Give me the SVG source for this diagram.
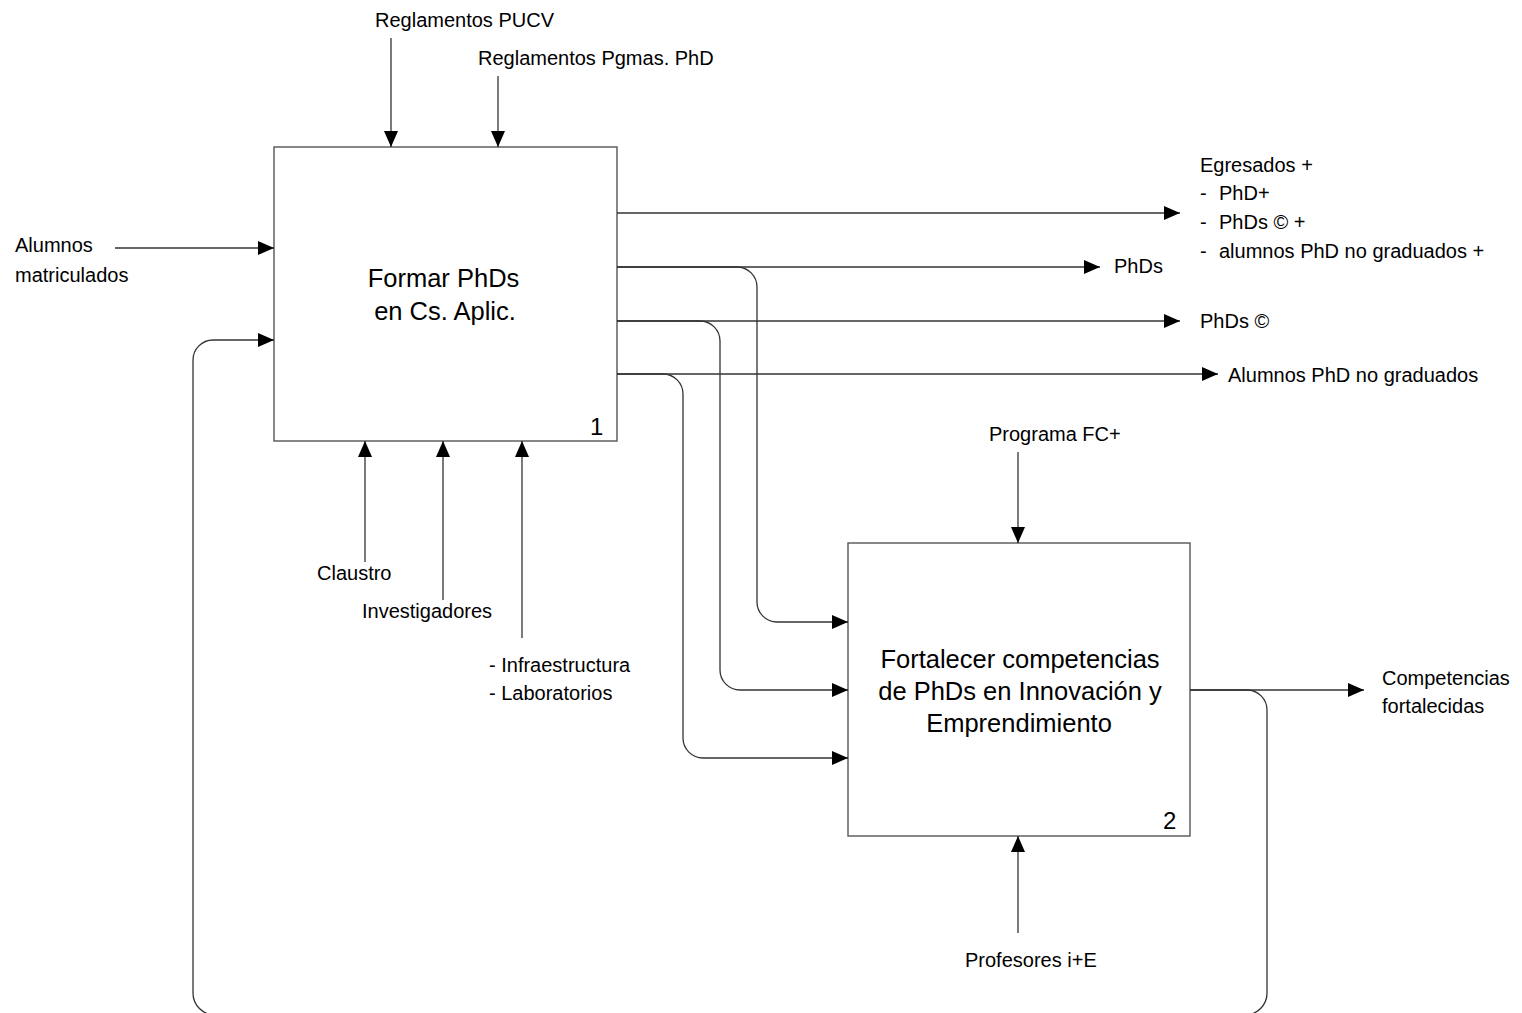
<svg xmlns="http://www.w3.org/2000/svg" width="1522" height="1013" viewBox="0 0 1522 1013">
<style>
.box{fill:#fff;stroke:#555;stroke-width:1.4}
.c{fill:none;stroke:#333;stroke-width:1.3}
.ar{marker-end:url(#ah)}
text{font-family:"Liberation Sans",Arial,sans-serif;fill:#000}
.lb{font-size:20px}
.bt{font-size:25.5px;text-anchor:middle}
.num{font-size:24px}
</style>
<defs>
<marker id="ah" markerUnits="userSpaceOnUse" markerWidth="16" markerHeight="14" refX="16" refY="7" orient="auto">
<path d="M0,0 L16,7 L0,14 z" fill="#000"/>
</marker>
</defs>
<rect width="1522" height="1013" fill="#fff"/>
<g id="box1">
<rect class="box" x="274" y="147" width="343" height="294"/>
<text class="bt" x="443.5" y="287">Formar PhDs</text>
<text class="bt" x="445" y="320">en Cs. Aplic.</text>
<text class="num" x="590" y="435">1</text>
</g>
<g id="box2">
<rect class="box" x="848" y="543" width="342" height="293"/>
<text class="bt" x="1020" y="668">Fortalecer competencias</text>
<text class="bt" x="1020" y="700">de PhDs en Innovación y</text>
<text class="bt" x="1019" y="732">Emprendimiento</text>
<text class="num" x="1163" y="829">2</text>
</g>
<g id="connectors">
<path class="c ar" d="M391,38 V147"/>
<path class="c ar" d="M498,76 V147"/>
<path class="c ar" d="M115,248 H274"/>
<path class="c ar" d="M1190,690 H1247 A20,20 0 0 1 1267,710 V993 A22,22 0 0 1 1245,1015 H215 A22,22 0 0 1 193,993 V360 A20,20 0 0 1 213,340 H274"/>
<path class="c ar" d="M617,213 H1180"/>
<path class="c ar" d="M617,267 H1100"/>
<path class="c ar" d="M617,321 H1180"/>
<path class="c ar" d="M617,374 H1218"/>
<path class="c ar" d="M617,267 H737 A20,20 0 0 1 757,287 V602 A20,20 0 0 0 777,622 H848"/>
<path class="c ar" d="M617,321 H700 A20,20 0 0 1 720,341 V670 A20,20 0 0 0 740,690 H848"/>
<path class="c ar" d="M617,374 H663 A20,20 0 0 1 683,394 V738 A20,20 0 0 0 703,758 H848"/>
<path class="c ar" d="M1190,690 H1364"/>
<path class="c ar" d="M1018,452 V543"/>
<path class="c ar" d="M1018,933 V836"/>
<path class="c ar" d="M365,562 V441"/>
<path class="c ar" d="M443,600 V441"/>
<path class="c ar" d="M522,638 V441"/>
</g>
<g id="labels" class="lb">
<text class="lb" x="375" y="27">Reglamentos PUCV</text>
<text class="lb" x="478" y="65">Reglamentos Pgmas. PhD</text>
<text class="lb" x="15" y="252">Alumnos</text>
<text class="lb" x="15" y="282">matriculados</text>
<text class="lb" x="1200" y="172">Egresados +</text>
<text class="lb" y="200"><tspan x="1200">-</tspan><tspan x="1219">PhD+</tspan></text>
<text class="lb" y="229"><tspan x="1200">-</tspan><tspan x="1219">PhDs © +</tspan></text>
<text class="lb" y="258"><tspan x="1200">-</tspan><tspan x="1219">alumnos PhD no graduados +</tspan></text>
<text class="lb" x="1114" y="273">PhDs</text>
<text class="lb" x="1200" y="328">PhDs ©</text>
<text class="lb" x="1228" y="382">Alumnos PhD no graduados</text>
<text class="lb" x="317" y="580">Claustro</text>
<text class="lb" x="362" y="618">Investigadores</text>
<text class="lb" x="489" y="672">- Infraestructura</text>
<text class="lb" x="489" y="700">- Laboratorios</text>
<text class="lb" x="989" y="441">Programa FC+</text>
<text class="lb" x="965" y="967">Profesores i+E</text>
<text class="lb" x="1382" y="685">Competencias</text>
<text class="lb" x="1382" y="713">fortalecidas</text>
</g>
</svg>
